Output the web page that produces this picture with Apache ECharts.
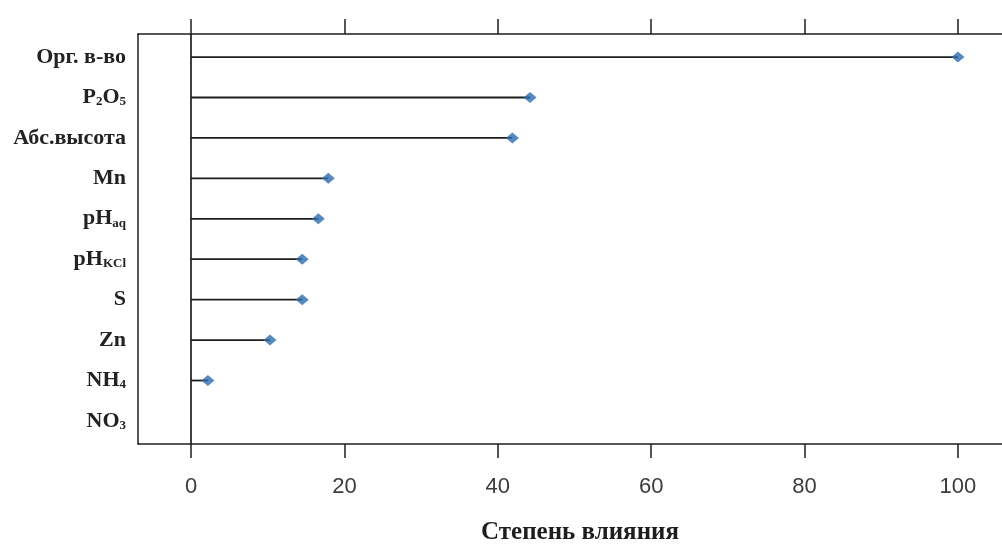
<!DOCTYPE html>
<html>
<head>
<meta charset="utf-8">
<script src="https://cdn.jsdelivr.net/npm/echarts@6/dist/echarts.min.js"></script>
<style>
  html, body { margin: 0; padding: 0; background: #fff; }
  #chart { width: 1002px; height: 544px; }
</style>
</head>
<body>
<div id="chart"></div>
<script>
// Factors, top to bottom (rich-text labels carry the subscripts)
const categories = ['Орг. в-во', 'P2O5', 'Абс.высота', 'Mn', 'pHaq', 'pHKCl', 'S', 'Zn', 'NH4', 'NO3'];
const categoryLabels = [
  'Орг. в-во',
  'P{sub|2}O{sub|5}',
  'Абс.высота',
  'Mn',
  'pH{sub|aq}',
  'pH{sub|KCl}',
  'S',
  'Zn',
  'NH{sub|4}',
  'NO{sub|3}'
];
// Relative importance (%) for each factor; NO3 has no value
const influence = [100, 44.2, 41.9, 17.9, 16.6, 14.5, 14.5, 10.3, 2.2, null];
const xTicks = [0, 20, 40, 60, 80, 100];
const axisTitle = 'Степень влияния';

const ink = '#1e1e1e';
const markerColor = '#2d6cab';
const serif = 'Liberation Serif, Times New Roman, serif';

const points = [];
influence.forEach((v, i) => {
  if (v !== null) points.push([v, i]);
});

const chart = echarts.init(document.getElementById('chart'), null, { renderer: 'canvas' });

// The frame runs off the right edge, so it is drawn from axis lines only
const xRange = { min: -6.91, max: 105.74 };

chart.setOption({
  backgroundColor: '#ffffff',
  animation: false,
  grid: {
    left: 138,
    top: 34,
    right: 0,
    height: 410,
    show: false
  },
  xAxis: [
    {
      type: 'value',
      position: 'bottom',
      min: xRange.min,
      max: xRange.max,
      splitLine: { show: false },
      axisLine: { show: true, onZero: false, lineStyle: { color: ink, width: 1.5 } },
      axisTick: {
        show: true,
        inside: false,
        length: 14,
        customValues: xTicks,
        lineStyle: { color: ink, width: 1.5 }
      },
      axisLabel: {
        show: true,
        customValues: xTicks,
        margin: 32,
        color: '#3c3c3c',
        fontFamily: 'Liberation Sans, Arial, sans-serif',
        fontSize: 22
      }
    },
    {
      type: 'value',
      position: 'top',
      min: xRange.min,
      max: xRange.max,
      splitLine: { show: false },
      axisLine: { show: true, onZero: false, lineStyle: { color: ink, width: 1.5 } },
      axisTick: {
        show: true,
        inside: false,
        length: 15,
        customValues: xTicks,
        lineStyle: { color: ink, width: 1.5 }
      },
      axisLabel: { show: false }
    }
  ],
  yAxis: {
    type: 'value',
    inverse: true,
    min: -0.57,
    max: 9.57,
    splitLine: { show: false },
    axisLine: { show: true, onZero: false, lineStyle: { color: ink, width: 1.5 } },
    axisTick: { show: false },
    axisLabel: {
      show: true,
      customValues: categories.map((_, i) => i),
      margin: 12,
      formatter: (v) => categoryLabels[Math.round(v)],
      color: '#222',
      fontFamily: serif,
      fontWeight: 'bold',
      fontSize: 22,
      rich: {
        sub: {
          fontFamily: serif,
          fontWeight: 'bold',
          fontSize: 13,
          color: '#222',
          padding: [9, 0, 0, 0]
        }
      }
    }
  },
  title: {
    text: axisTitle,
    left: 575,
    top: 515,
    textAlign: 'center',
    textStyle: {
      fontFamily: serif,
      fontWeight: 'bold',
      fontSize: 25,
      color: '#1e1e1e'
    }
  },
  series: [
    {
      // Stems from zero to each value
      type: 'custom',
      xAxisIndex: 0,
      data: points,
      renderItem: (params, api) => {
        const start = api.coord([0, api.value(1)]);
        const end = api.coord([api.value(0), api.value(1)]);
        return {
          type: 'line',
          shape: { x1: start[0], y1: start[1], x2: end[0], y2: end[1] },
          style: { stroke: ink, lineWidth: 1.8 }
        };
      },
      markLine: {
        silent: true,
        symbol: ['none', 'none'],
        label: { show: false },
        lineStyle: { color: ink, width: 1.7, type: 'solid' },
        data: [{ xAxis: 0 }]
      },
      z: 2
    },
    {
      type: 'scatter',
      xAxisIndex: 0,
      data: points,
      symbol: 'diamond',
      symbolSize: [13, 11],
      itemStyle: { color: markerColor },
      z: 3
    }
  ]
});
</script>
</body>
</html>
